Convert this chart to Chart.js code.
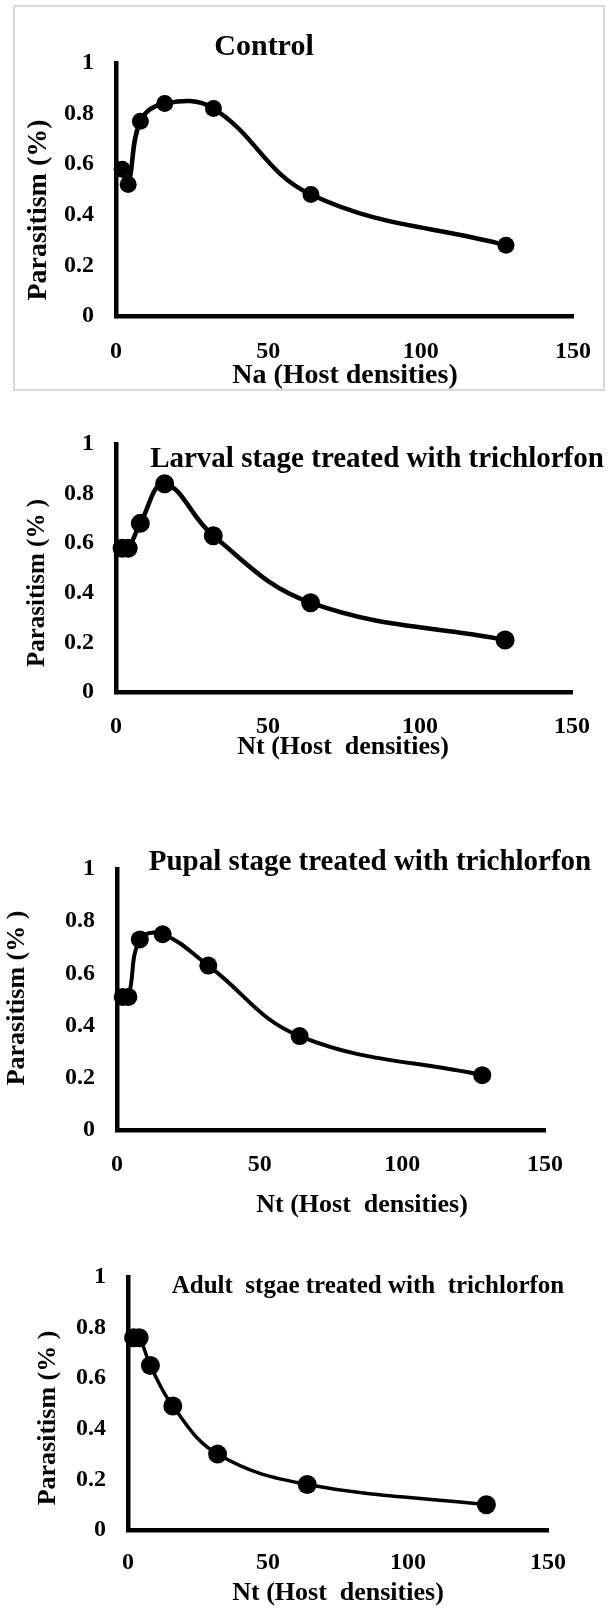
<!DOCTYPE html>
<html>
<head>
<meta charset="utf-8">
<script src="https://cdn.jsdelivr.net/npm/chart.js@4.4.0/dist/chart.umd.min.js"></script>
<style>
  body { margin: 0; background: #fff; width: 614px; height: 1608px; position: relative; overflow: hidden; }
  canvas { position: absolute; left: 0; }
  .frame { position: absolute; left: 13px; top: 5px; width: 592px; height: 386px; border: 2px solid #d9d9d9; box-sizing: border-box; }
</style>
</head>
<body>
<canvas id="control" width="614" height="398" style="top:0"></canvas>
<div class="frame"></div>
<canvas id="larval" width="614" height="380" style="top:398px"></canvas>
<canvas id="pupal" width="614" height="428" style="top:790px"></canvas>
<canvas id="adult" width="614" height="393" style="top:1215px"></canvas>
<script>
// host densities and parasitism
const hostDensities = [2, 4, 8, 16, 32, 64, 128];
const controlParasitism = [0.58, 0.52, 0.77, 0.84, 0.82, 0.48, 0.28];
const larvalParasitism = [0.58, 0.58, 0.68, 0.84, 0.63, 0.36, 0.21];
const pupalParasitism = [0.51, 0.51, 0.73, 0.75, 0.63, 0.36, 0.21];
const adultParasitism = [0.76, 0.76, 0.65, 0.49, 0.30, 0.18, 0.10];
const xTickValues = [0, 50, 100, 150];
const yTickValues = [0, 0.2, 0.4, 0.6, 0.8, 1];

const serif = '"Liberation Serif", "Times New Roman", serif';
Chart.defaults.font.family = serif;
Chart.defaults.font.weight = 'bold';
Chart.defaults.color = '#000';

// titles and axis titles, placed like in the figure
const panelText = {
    id: 'panelText',
    afterDraw(chart, args, opts) {
        const ctx = chart.ctx;
        opts.items.forEach(t => {
            ctx.save();
            ctx.font = 'bold ' + t.size + 'px ' + serif;
            ctx.fillStyle = '#000';
            ctx.textAlign = 'center';
            ctx.textBaseline = 'middle';
            ctx.translate(t.x, t.y);
            if (t.rotate) ctx.rotate(-Math.PI / 2);
            ctx.fillText(t.text, 0, 0);
            ctx.restore();
        });
    }
};

function panel(id, values, box, look, texts) {
    const canvas = document.getElementById(id);
    const xAxisHeight = 60;
    const tickFont = { family: serif, weight: 'bold', size: 24 };
    return new Chart(canvas, {
        type: 'scatter',
        data: {
            datasets: [{
                data: hostDensities.map((x, i) => ({ x: x, y: values[i] })),
                showLine: true,
                borderColor: '#000',
                backgroundColor: '#000',
                borderWidth: look.line,
                pointRadius: look.dot,
                pointBorderWidth: 0,
                tension: 0.4,
                clip: false
            }]
        },
        options: {
            responsive: false,
            animation: false,
            layout: {
                padding: {
                    left: 0,
                    top: box.top,
                    right: canvas.width - box.right,
                    bottom: canvas.height - box.bottom - xAxisHeight
                }
            },
            scales: {
                x: {
                    type: 'linear',
                    min: 0,
                    max: 150,
                    afterFit: s => { s.height = xAxisHeight; },
                    afterBuildTicks: s => { s.ticks = xTickValues.map(v => ({ value: v })); },
                    grid: { display: false, drawTicks: false },
                    border: { color: '#000', width: 4.5 },
                    ticks: { padding: look.xPad, maxRotation: 0, font: tickFont, callback: v => String(v) }
                },
                y: {
                    min: 0,
                    max: 1,
                    afterFit: s => { s.width = box.left; },
                    afterBuildTicks: s => { s.ticks = yTickValues.map(v => ({ value: v })); },
                    grid: { display: false, drawTicks: false },
                    border: { color: '#000', width: 4.5 },
                    ticks: { padding: 22, font: tickFont, callback: v => String(v) }
                }
            },
            plugins: {
                legend: { display: false },
                tooltip: { enabled: false },
                panelText: { items: texts }
            }
        },
        plugins: [panelText]
    });
}

panel('control', controlParasitism,
    { left: 116, top: 63, right: 573, bottom: 316 },
    { line: 4.5, dot: 8.5, xPad: 21 },
    [
        { text: 'Control', x: 264, y: 47, size: 30 },
        { text: 'Parasitism (%)', x: 39, y: 210, size: 28, rotate: true },
        { text: 'Na (Host densities)', x: 345, y: 376, size: 28 }
    ]);

panel('larval', larvalParasitism,
    { left: 116, top: 46, right: 572, bottom: 294 },
    { line: 4.5, dot: 9.5, xPad: 20 },
    [
        { text: 'Larval stage treated with trichlorfon', x: 377, y: 62, size: 29 },
        { text: 'Parasitism (% )', x: 38, y: 185, size: 25, rotate: true },
        { text: 'Nt (Host  densities)', x: 343, y: 349, size: 26 }
    ]);

panel('pupal', pupalParasitism,
    { left: 117, top: 79, right: 545, bottom: 340 },
    { line: 4, dot: 9, xPad: 20 },
    [
        { text: 'Pupal stage treated with trichlorfon', x: 370, y: 73, size: 29 },
        { text: 'Parasitism (% )', x: 17, y: 208, size: 26, rotate: true },
        { text: 'Nt (Host  densities)', x: 362, y: 415, size: 26 }
    ]);

panel('adult', adultParasitism,
    { left: 128, top: 62, right: 548, bottom: 315 },
    { line: 3.5, dot: 9.5, xPad: 18 },
    [
        { text: 'Adult  stgae treated with  trichlorfon', x: 368, y: 72, size: 25 },
        { text: 'Parasitism (% )', x: 48, y: 203, size: 26, rotate: true },
        { text: 'Nt (Host  densities)', x: 338, y: 378, size: 26 }
    ]);
</script>
</body>
</html>
